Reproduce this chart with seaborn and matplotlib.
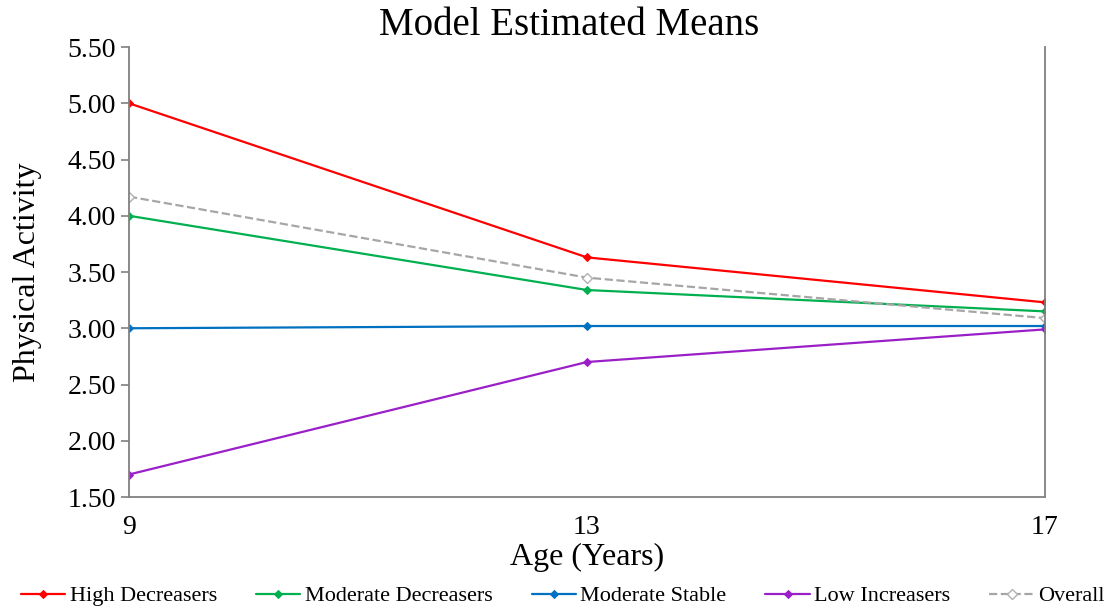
import pandas as pd
import matplotlib.pyplot as plt
import seaborn as sns

# Data
umur = [9, 13, 17]
high_decreasers = [5.00, 3.63, 3.23]
moderate_decreasers = [4.00, 3.34, 3.15]
moderate_stable = [3.00, 3.02, 3.02]
low_increasers = [1.70, 2.70, 2.99]
overall = [4.17, 3.45, 3.09]

kelompok = ['High Decreasers', 'Moderate Decreasers', 'Moderate Stable', 'Low Increasers', 'Overall']
warna = ['#ff0000', '#00b050', '#0070c0', '#9b1fc9', '#a6a6a6']
nilai = [high_decreasers, moderate_decreasers, moderate_stable, low_increasers, overall]

sns.set_style('white')
plt.rcParams['font.family'] = ['Liberation Serif', 'DejaVu Serif']
plt.rcParams['text.color'] = 'black'
plt.rcParams['axes.labelcolor'] = 'black'

fig = plt.figure(figsize=(11.08, 6.09), dpi=100)
ax = fig.add_axes([0.1164, 0.1839, 0.8267, 0.7389])

for nama, w, y in zip(kelompok, warna, nilai):
    df = pd.DataFrame({'Umur': umur, 'Nilai': y})
    if nama == 'Overall':
        sns.lineplot(data=df, x='Umur', y='Nilai', ax=ax, color=w, linestyle='--', linewidth=1.6,
                     marker='D', markersize=5, markerfacecolor='white', markeredgecolor='#b0b0b0',
                     markeredgewidth=1.0, label=nama)
    else:
        sns.lineplot(data=df, x='Umur', y='Nilai', ax=ax, color=w, linewidth=1.6,
                     marker='D', markersize=4, markeredgecolor=w, label=nama)

ax.set_xlim(9, 17)
ax.set_ylim(1.5, 5.5)
ax.set_xticks(umur)
ax.set_yticks([1.5, 2.0, 2.5, 3.0, 3.5, 4.0, 4.5, 5.0, 5.5])
ax.set_yticklabels(['%.2f' % v for v in ax.get_yticks()])
ax.tick_params(axis='both', labelsize=20, colors='black')
ax.tick_params(axis='y', length=6, width=1.2, color='#808080', direction='out', left=True)
ax.tick_params(axis='x', length=0, pad=13)

for s in ['left', 'bottom', 'right']:
    ax.spines[s].set_color('#808080')
    ax.spines[s].set_linewidth(1.3)
ax.spines['top'].set_visible(False)

fig.text(0.5135, 0.958, 'Model Estimated Means', fontsize=28, ha='center', va='center')
ax.set_xlabel('Age (Years)', fontsize=23, labelpad=2)
ax.set_ylabel('Physical Activity', fontsize=23, labelpad=18)

h, l = ax.get_legend_handles_labels()
ax.get_legend().remove()
fig.legend(h, l, loc='center', bbox_to_anchor=(0.508, 0.021), ncol=5, frameon=False,
           fontsize=16, handlelength=2.0, handletextpad=0.2, columnspacing=1.75, borderpad=0.1)

plt.savefig('out.png', dpi=100)
